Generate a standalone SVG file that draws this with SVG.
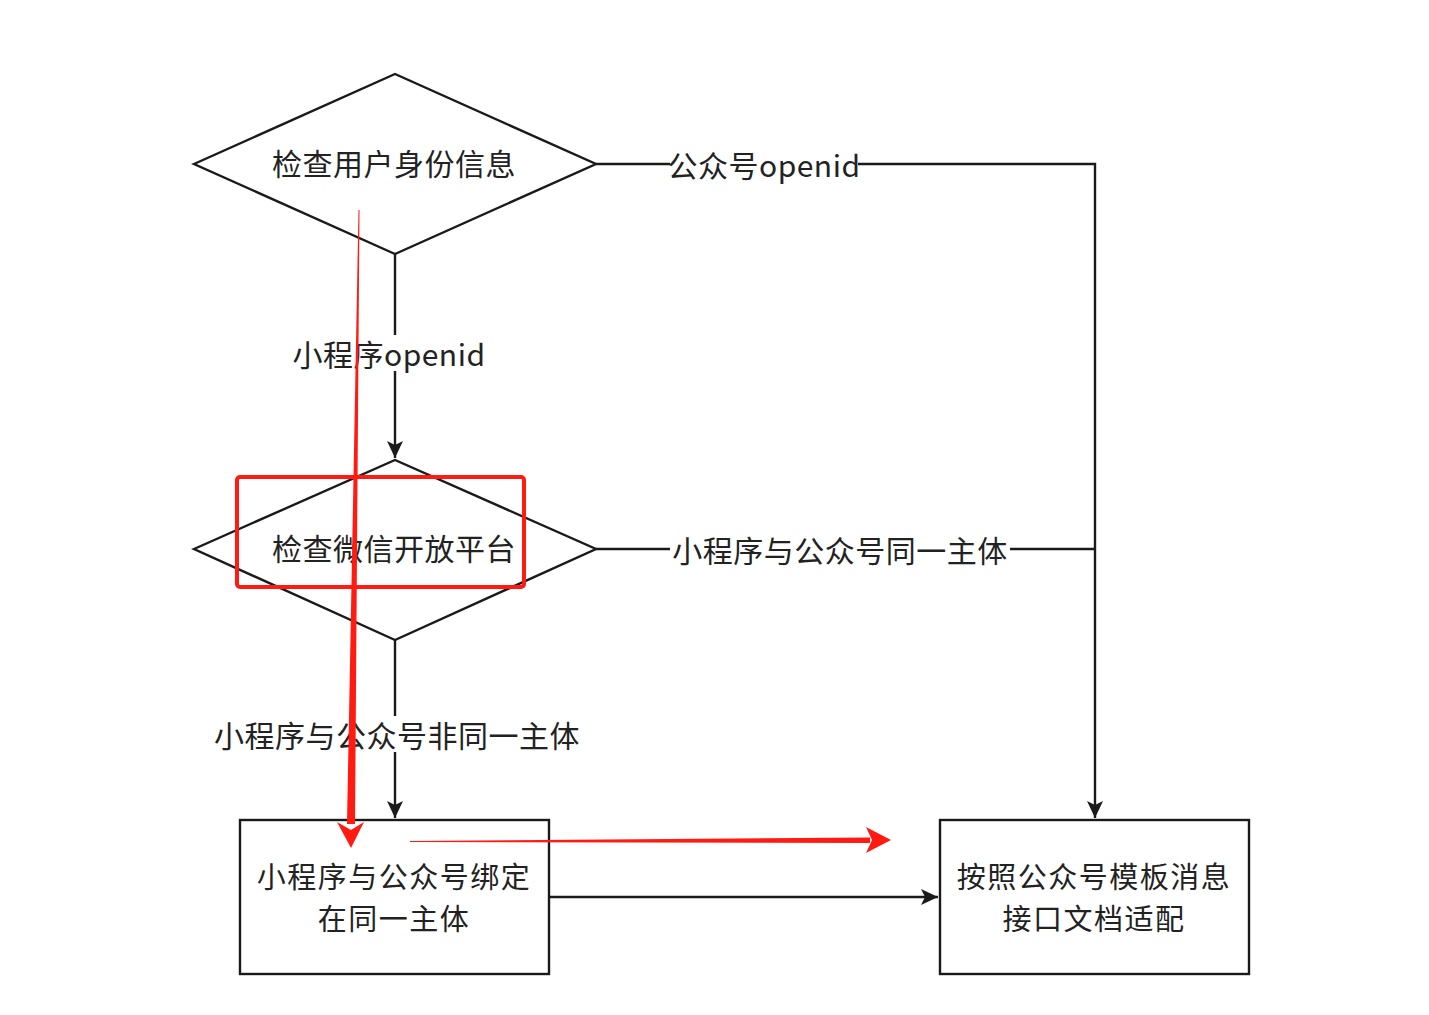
<svg xmlns="http://www.w3.org/2000/svg" width="1429" height="1015" viewBox="0 0 1429 1015">
<style>
.shape{fill:#ffffff;stroke:#1a1a1a;stroke-width:2.4}
.edge{fill:none;stroke:#1a1a1a;stroke-width:2.4}
.t{font-family:"Noto Sans CJK SC","Noto Sans",sans-serif;font-size:30px;letter-spacing:0.5px;fill:#222222;text-anchor:middle;dominant-baseline:central}
.tb{font-family:"Noto Sans CJK SC","Noto Sans",sans-serif;font-size:29px;letter-spacing:1.5px;fill:#222222;text-anchor:middle;dominant-baseline:central}
.bg{fill:#ffffff}
.red{fill:#ff1a12}
</style>
<defs>
<marker id="arr" markerWidth="18" markerHeight="16" refX="17" refY="8" orient="auto" markerUnits="userSpaceOnUse">
<path d="M0,0 L17,8 L0,16 L4,8 Z" fill="#1a1a1a"/>
</marker>
</defs>
<rect width="1429" height="1015" fill="#ffffff"/>
<g id="connectors">
<path class="edge" d="M596,164 H1095 V818" marker-end="url(#arr)"/>
<path class="edge" d="M395,254 V458" marker-end="url(#arr)"/>
<path class="edge" d="M596,549 H1095"/>
<path class="edge" d="M395,640 V818" marker-end="url(#arr)"/>
<path class="edge" d="M549,897 H938" marker-end="url(#arr)"/>
<rect class="bg" x="670" y="146" width="188" height="36"/>
<text class="t" x="764" y="164">公众号openid</text>
<rect class="bg" x="294" y="335" width="190" height="36"/>
<text class="t" x="389" y="353">小程序openid</text>
<rect class="bg" x="670" y="531" width="340" height="36"/>
<text class="t" x="840" y="549">小程序与公众号同一主体</text>
<rect class="bg" x="212" y="716" width="370" height="36"/>
<text class="t" x="397" y="734">小程序与公众号非同一主体</text>
</g>
<g id="node-check-user">
<polygon class="shape" points="194,164 395,74 596,164 395,254"/>
<text class="t" x="394" y="162">检查用户身份信息</text>
</g>
<g id="node-check-platform">
<polygon class="shape" points="194,549 395,460 596,549 395,640"/>
<text class="t" x="394" y="547">检查微信开放平台</text>
</g>
<g id="node-bind">
<rect class="shape" x="240" y="820" width="309" height="154"/>
<text class="tb" x="394" y="875">小程序与公众号绑定</text>
<text class="tb" x="394" y="917">在同一主体</text>
</g>
<g id="node-adapt">
<rect class="shape" x="940" y="820" width="309" height="154"/>
<text class="tb" x="1094" y="875">按照公众号模板消息</text>
<text class="tb" x="1094" y="917">接口文档适配</text>
</g>
<g id="annotations">
<rect x="237" y="477" width="287" height="110" rx="3" fill="none" stroke="#ff1a12" stroke-width="4"/>
<polygon class="red" points="358.5,210 359.5,210 355,824 347,824"/>
<polygon class="red" points="337,822 351,848 364,822 351,830"/>
<polygon class="red" points="410,842 410,841 870,837.5 870,843"/>
<polygon class="red" points="866,827 891,840 866,853 872,840"/>
</g>
</svg>
